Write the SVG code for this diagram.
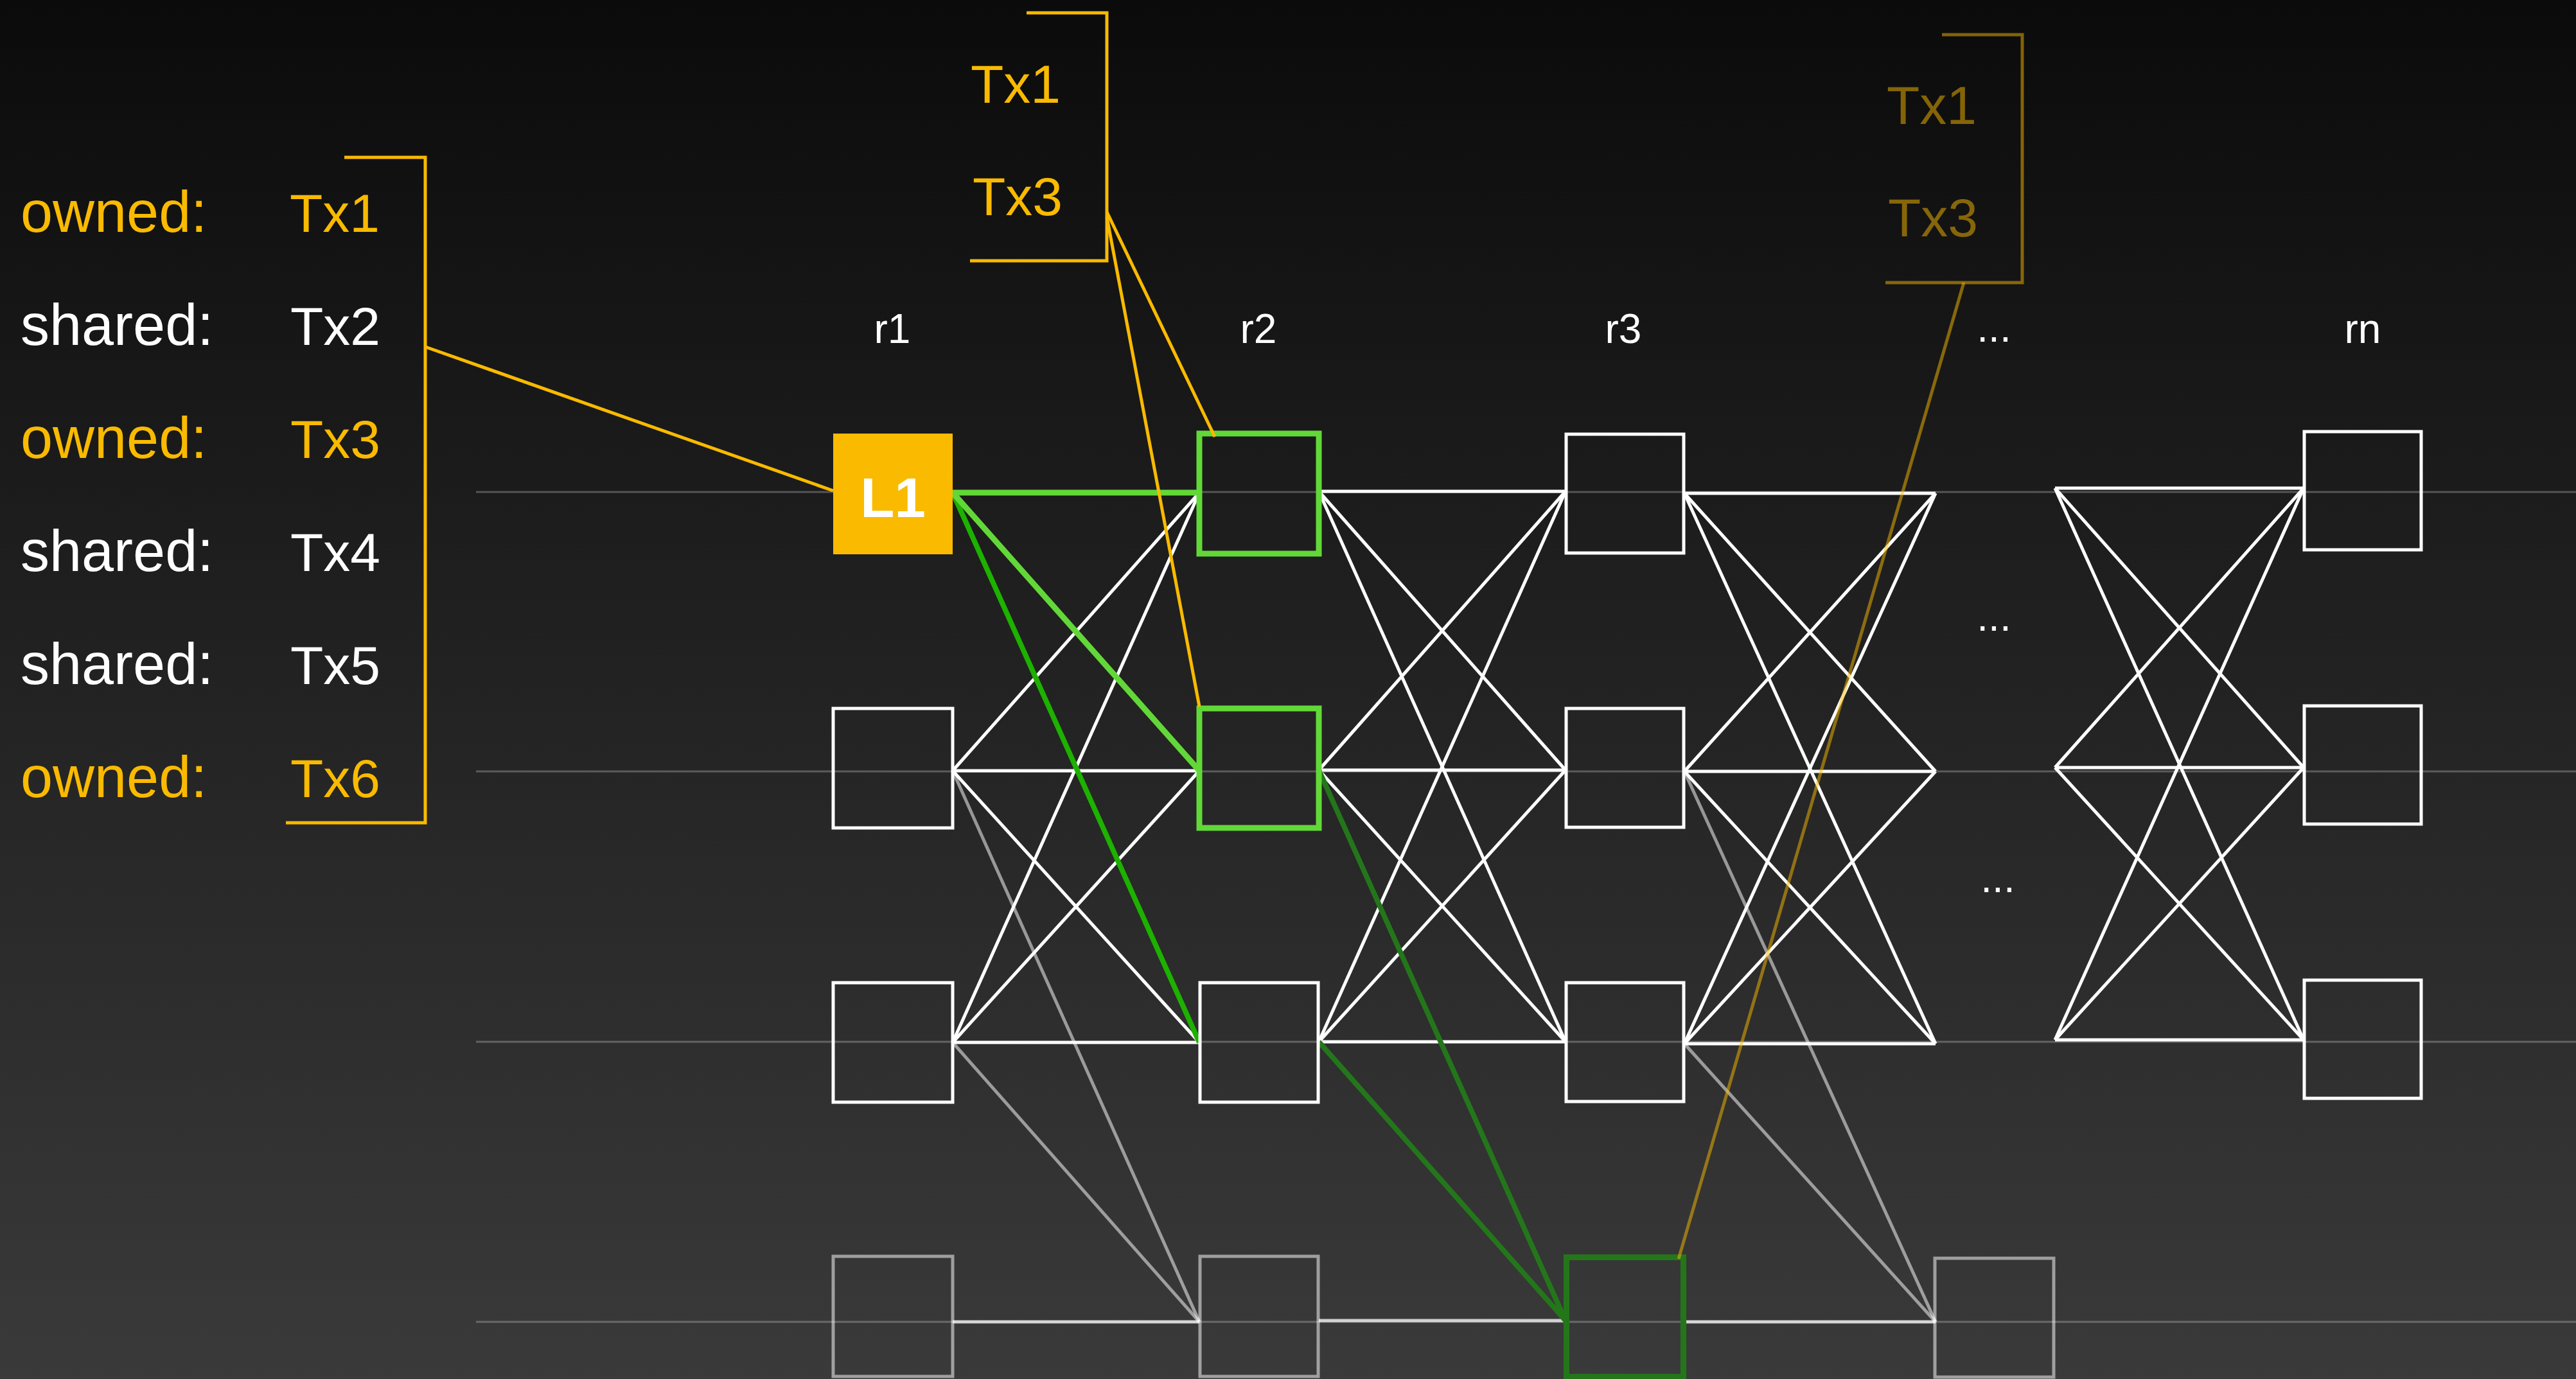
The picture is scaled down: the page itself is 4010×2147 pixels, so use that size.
<svg xmlns="http://www.w3.org/2000/svg" width="4010" height="2147" viewBox="0 0 4010 2147">
<defs>
<linearGradient id="bg" x1="0" y1="0" x2="0" y2="1">
<stop offset="0" stop-color="#0b0b0b"/>
<stop offset="1" stop-color="#3a3a3a"/>
</linearGradient>
</defs>
<style>
text{font-family:"Liberation Sans",Arial,Helvetica,sans-serif}
.y{fill:#F9BA00}
.w{fill:#ffffff}
.fy{fill:#F9BA00;fill-opacity:.5}
.key{font-size:90px}
.tx{font-size:84px;text-anchor:middle}
.hdr{font-size:64px;fill:#ffffff;text-anchor:middle}
.box{fill:none;stroke:#ffffff;stroke-width:5}
.gbox{fill:none;stroke:#ffffff;stroke-opacity:.52;stroke-width:5}
.grbox{fill:none;stroke:#62D838;stroke-width:9}
.dgbox{fill:none;stroke:#24761b;stroke-width:9}
.wl line{stroke:#ffffff;stroke-width:5}
.gl line{stroke:#ffffff;stroke-opacity:.52;stroke-width:5}
.hl line{stroke:#ffffff;stroke-opacity:.75;stroke-width:5}
.guide line{stroke:#ffffff;stroke-opacity:.25;stroke-width:3}
.or{stroke:#F9BA00;stroke-width:5;fill:none}
.fo{stroke:#F9BA00;stroke-opacity:.5;stroke-width:5;fill:none}
</style>
<rect x="0" y="0" width="4010" height="2147" fill="url(#bg)"/>

<g id="guides" class="guide">
<line x1="741" y1="766" x2="4010" y2="766"/>
<line x1="741" y1="1201" x2="4010" y2="1201"/>
<line x1="741" y1="1622" x2="4010" y2="1622"/>
<line x1="741" y1="2058" x2="4010" y2="2058"/>
</g>

<g id="connectors">
<g class="wl">
<!-- set A -->
<line x1="1483" y1="1200" x2="1867" y2="767"/>
<line x1="1483" y1="1200" x2="1867" y2="1200"/>
<line x1="1483" y1="1200" x2="1867" y2="1623"/>
<line x1="1483" y1="1623" x2="1867" y2="767"/>
<line x1="1483" y1="1623" x2="1867" y2="1200"/>
<line x1="1483" y1="1623" x2="1867" y2="1623"/>
<!-- set B -->
<line x1="2053" y1="765" x2="2437" y2="765"/>
<line x1="2053" y1="765" x2="2437" y2="1199"/>
<line x1="2053" y1="765" x2="2437" y2="1622"/>
<line x1="2053" y1="1199" x2="2437" y2="765"/>
<line x1="2053" y1="1199" x2="2437" y2="1199"/>
<line x1="2053" y1="1199" x2="2437" y2="1622"/>
<line x1="2053" y1="1622" x2="2437" y2="765"/>
<line x1="2053" y1="1622" x2="2437" y2="1199"/>
<line x1="2053" y1="1622" x2="2437" y2="1622"/>
<!-- set C -->
<line x1="2622" y1="768" x2="3013" y2="768"/>
<line x1="2622" y1="768" x2="3013" y2="1201"/>
<line x1="2622" y1="768" x2="3013" y2="1625"/>
<line x1="2622" y1="1201" x2="3013" y2="768"/>
<line x1="2622" y1="1201" x2="3013" y2="1201"/>
<line x1="2622" y1="1201" x2="3013" y2="1625"/>
<line x1="2622" y1="1625" x2="3013" y2="768"/>
<line x1="2622" y1="1625" x2="3013" y2="1201"/>
<line x1="2622" y1="1625" x2="3013" y2="1625"/>
<!-- set D -->
<line x1="3199" y1="760" x2="3586" y2="760"/>
<line x1="3199" y1="760" x2="3586" y2="1195"/>
<line x1="3199" y1="760" x2="3586" y2="1619"/>
<line x1="3199" y1="1195" x2="3586" y2="760"/>
<line x1="3199" y1="1195" x2="3586" y2="1195"/>
<line x1="3199" y1="1195" x2="3586" y2="1619"/>
<line x1="3199" y1="1619" x2="3586" y2="760"/>
<line x1="3199" y1="1619" x2="3586" y2="1195"/>
<line x1="3199" y1="1619" x2="3586" y2="1619"/>
</g>
<g class="gl">
<line x1="1483" y1="1200" x2="1867" y2="2058"/>
<line x1="1483" y1="1623" x2="1867" y2="2058"/>
<line x1="2622" y1="1201" x2="3013" y2="2058"/>
<line x1="2622" y1="1625" x2="3013" y2="2058"/>
</g>
<g class="hl">
<line x1="1483" y1="2058" x2="1867" y2="2058"/>
<line x1="2053" y1="2056" x2="2437" y2="2056"/>
<line x1="2622" y1="2058" x2="3013" y2="2058"/>
</g>
<line x1="2053" y1="1199" x2="2437" y2="2056" stroke="#24761b" stroke-width="8"/>
<line x1="2053" y1="1622" x2="2437" y2="2056" stroke="#24761b" stroke-width="8"/>
<line x1="1483" y1="767" x2="1867" y2="1623" stroke="#1DB100" stroke-width="8"/>
<line x1="1483" y1="767" x2="1867" y2="1200" stroke="#62D838" stroke-width="9"/>
<line x1="1483" y1="767" x2="1867" y2="767" stroke="#62D838" stroke-width="9"/>
</g>

<g id="r1-col">
<g id="L1">
<rect x="1297" y="675" width="186" height="188" fill="#F9BA00"/>
<text x="1390" y="805" font-size="87" font-weight="bold" fill="#ffffff" text-anchor="middle">L1</text>
</g>
<rect id="c1r2" class="box" x="1297" y="1103" width="186" height="186"/>
<rect id="c1r3" class="box" x="1297" y="1530" width="186" height="186"/>
<rect id="c1r4" class="gbox" x="1297" y="1956" width="186" height="187"/>
</g>
<g id="r2-col">
<rect id="c2r1" class="grbox" x="1867" y="675" width="186" height="187"/>
<rect id="c2r2" class="grbox" x="1867" y="1103" width="186" height="186"/>
<rect id="c2r3" class="box" x="1868" y="1530" width="184" height="186"/>
<rect id="c2r4" class="gbox" x="1868" y="1956" width="184" height="187"/>
</g>
<g id="r3-col">
<rect id="c3r1" class="box" x="2438" y="676" width="183" height="185"/>
<rect id="c3r2" class="box" x="2438" y="1103" width="183" height="185"/>
<rect id="c3r3" class="box" x="2438" y="1530" width="183" height="185"/>
<rect id="c3r4" class="dgbox" x="2438.5" y="1957.5" width="182" height="186"/>
</g>
<g id="dots-col">
<rect id="c4r4" class="gbox" x="3012" y="1959" width="185" height="185"/>
<text class="hdr" x="3104" y="982">...</text>
<text class="hdr" x="3110" y="1389">...</text>
</g>
<g id="rn-col">
<rect id="c5r1" class="box" x="3587" y="672" width="182" height="184"/>
<rect id="c5r2" class="box" x="3587" y="1099" width="182" height="184"/>
<rect id="c5r3" class="box" x="3587" y="1526" width="182" height="184"/>
</g>

<g id="headers">
<text class="hdr" x="1389" y="534">r1</text>
<text class="hdr" x="1959" y="534">r2</text>
<text class="hdr" x="2527" y="534">r3</text>
<text class="hdr" x="3104" y="532">...</text>
<text class="hdr" x="3678" y="534">rn</text>
</g>

<g id="tx-list">
<text class="key y" x="32" y="361">owned:</text>
<text class="key w" x="32" y="537">shared:</text>
<text class="key y" x="32" y="713">owned:</text>
<text class="key w" x="32" y="889">shared:</text>
<text class="key w" x="32" y="1065">shared:</text>
<text class="key y" x="32" y="1241">owned:</text>
<text class="tx y" x="521" y="361">Tx1</text>
<text class="tx w" x="522" y="537">Tx2</text>
<text class="tx y" x="522" y="713">Tx3</text>
<text class="tx w" x="522" y="889">Tx4</text>
<text class="tx w" x="522" y="1065">Tx5</text>
<text class="tx y" x="522" y="1241">Tx6</text>
<polyline class="or" points="536,245 662,245 662,1281 445,1281"/>
</g>

<g id="owned-r2">
<text class="tx y" x="1581" y="160">Tx1</text>
<text class="tx y" x="1584" y="335">Tx3</text>
<polyline class="or" points="1598,20 1723,20 1723,406 1510,406"/>
</g>

<g id="owned-r3">
<text class="tx fy" x="3007" y="193">Tx1</text>
<text class="tx fy" x="3009" y="368">Tx3</text>
<polyline class="fo" points="3023,54 3148,54 3148,440 2935,440"/>
</g>

<g id="bracket-links">
<line class="or" x1="662" y1="540" x2="1297" y2="764"/>
<line class="or" x1="1723" y1="330" x2="1891" y2="680"/>
<line class="or" x1="1723" y1="338" x2="1867" y2="1100"/>
<line class="fo" x1="3057" y1="440" x2="2613" y2="1960"/>
</g>
</svg>
